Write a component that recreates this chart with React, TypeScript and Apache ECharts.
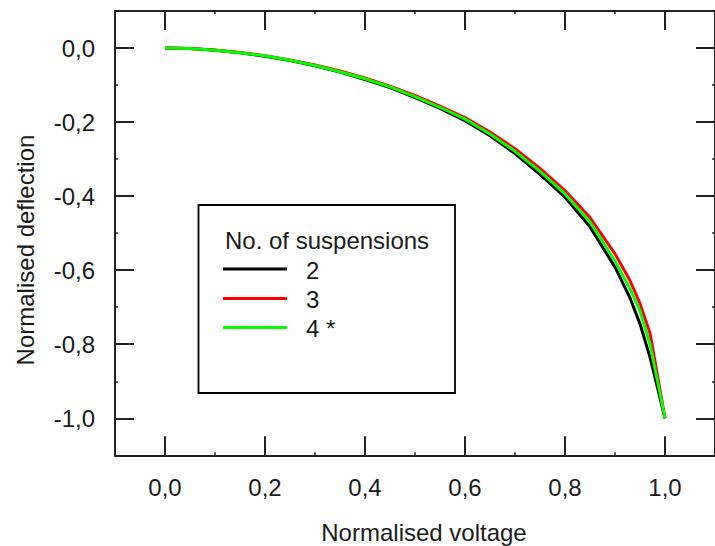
import React, { useEffect, useRef } from "react";
import * as echarts from "echarts";

// Normalised voltage sample points shared by all three curves
const voltage = [
  0, 0.05, 0.1, 0.15, 0.2, 0.25, 0.3, 0.35, 0.4, 0.45, 0.5, 0.55, 0.6, 0.65, 0.7, 0.75, 0.8, 0.85, 0.9,
  0.93, 0.95, 0.97, 1.0,
];

// Normalised deflection for each number of suspensions
const deflection2 = [
  0, -0.0015, -0.006, -0.013, -0.022, -0.034, -0.048, -0.065, -0.085, -0.107, -0.134, -0.163, -0.196,
  -0.237, -0.285, -0.341, -0.403, -0.483, -0.592, -0.675, -0.745, -0.835, -1.0,
];
const deflection3 = [
  0, -0.0015, -0.0055, -0.012, -0.0205, -0.032, -0.046, -0.062, -0.081, -0.103, -0.128, -0.157, -0.188,
  -0.227, -0.272, -0.325, -0.385, -0.458, -0.556, -0.628, -0.69, -0.77, -1.0,
];
const deflection4 = [
  0, -0.0015, -0.006, -0.0125, -0.021, -0.033, -0.047, -0.064, -0.083, -0.105, -0.131, -0.16, -0.192,
  -0.232, -0.279, -0.333, -0.394, -0.47, -0.575, -0.65, -0.71, -0.8, -1.0,
];

const seriesNames = ["2", "3", "4 *"];
const seriesColors = ["#000000", "#ff0000", "#00ff00"];

// Labelled tick positions
const xTickValues = [0, 0.2, 0.4, 0.6, 0.8, 1.0];
const yTickValues = [-1.0, -0.8, -0.6, -0.4, -0.2, 0.0];

const legendTitle = "No. of suspensions";
const xTitle = "Normalised voltage";
const yTitle = "Normalised deflection";

const FONT = "'Liberation Sans', Arial, Helvetica, sans-serif";
const FONT_SIZE = 24;
const AXIS_COLOR = "#222222";
const TEXT_COLOR = "#1a1a1a";

const commaFormat = (v: number) => {
  const s = Math.abs(v) < 1e-9 ? "0.0" : v.toFixed(1);
  return s.replace(".", ",");
};

type Side = "bottom" | "top" | "left" | "right";

// Each side gets two axes: one carrying the line, minor ticks and labels,
// and one carrying only the long major ticks.
function buildAxes(
  sides: Side[],
  min: number,
  max: number,
  majors: number[],
  labelSide: Side
) {
  const axes: any[] = [];
  sides.forEach((side) => {
    axes.push({
      type: "value",
      position: side,
      min,
      max,
      interval: 0.1,
      axisLine: { show: true, onZero: false, lineStyle: { color: AXIS_COLOR, width: 2 } },
      axisTick: { show: true, inside: true, length: 3, lineStyle: { color: AXIS_COLOR, width: 1.5 } },
      axisLabel: {
        show: side === labelSide,
        customValues: majors,
        formatter: commaFormat,
        margin: 20,
        color: TEXT_COLOR,
        fontSize: FONT_SIZE,
        fontFamily: FONT,
      },
      splitLine: { show: false },
      minorTick: { show: false },
    });
    axes.push({
      type: "value",
      position: side,
      min,
      max,
      interval: 0.1,
      axisLine: { show: false, onZero: false },
      axisTick: {
        show: true,
        inside: true,
        length: 19,
        customValues: majors,
        lineStyle: { color: AXIS_COLOR, width: 2 },
      },
      axisLabel: { show: false },
      splitLine: { show: false },
    });
  });
  return axes;
}

export default function App() {
  const ref = useRef<HTMLDivElement>(null);

  useEffect(() => {
    document.body.style.margin = "0";
    if (!ref.current) return;
    const chart = echarts.init(ref.current, null, { renderer: "svg" });

    const curves = [deflection2, deflection3, deflection4];

    const series = curves.map((d, i) => ({
      name: seriesNames[i],
      type: "line",
      xAxisIndex: 0,
      yAxisIndex: 0,
      data: voltage.map((v, j) => [v, d[j]]),
      showSymbol: false,
      symbol: "none",
      smooth: false,
      lineStyle: { color: seriesColors[i], width: 3 },
      itemStyle: { color: seriesColors[i] },
      z: 2 + i,
    }));

    // Legend box drawn in chart pixel space
    const box = { x: 198.5, y: 205, w: 256.5, h: 188 };
    const legendRows = [269, 298.5, 327.5];
    const textStyle = (text: string, align: string) => ({
      text,
      fill: TEXT_COLOR,
      font: `${FONT_SIZE}px ${FONT}`,
      textAlign: align,
      textVerticalAlign: "middle",
    });

    const graphic: any[] = [
      {
        type: "rect",
        shape: { x: box.x, y: box.y, width: box.w, height: box.h },
        style: { fill: "#ffffff", stroke: "#000000", lineWidth: 1.8 },
        z: 10,
      },
      { type: "text", x: 225, y: 240, style: textStyle(legendTitle, "left"), z: 11 },
      ...legendRows.flatMap((y, i) => [
        {
          type: "line",
          shape: { x1: 223, y1: y, x2: 287, y2: y },
          style: { stroke: seriesColors[i], lineWidth: 3 },
          z: 11,
        },
        { type: "text", x: 306, y: y + 1, style: textStyle(seriesNames[i], "left"), z: 11 },
      ]),
      { type: "text", x: 424, y: 532, style: textStyle(xTitle, "center") },
      { type: "text", x: 25, y: 250, rotation: Math.PI / 2, style: textStyle(yTitle, "center") },
    ];

    chart.setOption({
      animation: false,
      backgroundColor: "#ffffff",
      grid: { left: 115, top: 11, width: 607.5, height: 444.3, containLabel: false },
      xAxis: buildAxes(["bottom", "top"], -0.1, 1.1, xTickValues, "bottom"),
      yAxis: buildAxes(["left", "right"], -1.1, 0.1, yTickValues, "left"),
      series,
      graphic,
    });

    return () => chart.dispose();
  }, []);

  return <div ref={ref} style={{ width: 715, height: 546 }} />;
}
